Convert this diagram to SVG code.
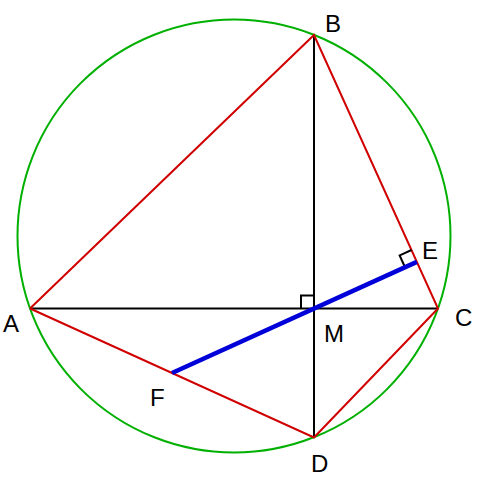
<svg xmlns="http://www.w3.org/2000/svg" width="480" height="480" viewBox="0 0 480 480">
<style>
.lbl{font-family:"Liberation Sans",Arial,sans-serif;font-size:24px;fill:#000}
.red{stroke:#d00000;stroke-width:2;fill:none}
.blk{stroke:#000;stroke-width:2;fill:none}
.blue{stroke:#0000d8;stroke-width:4.5;fill:none}
.circ{stroke:#00b000;stroke-width:2;fill:none}
</style>
<rect width="480" height="480" fill="#fff"/>
<g id="circle"><circle class="circ" cx="234" cy="236" r="216.5"/></g>
<g id="connectors">
<line class="blk" x1="30" y1="308.5" x2="438" y2="308.5"/>
<line class="blk" x1="314" y1="35" x2="314" y2="437.5"/>
<polyline class="red" points="30,308.5 314,35 438,308.5 314,437.5 30,308.5"/>
<polyline class="blk" points="301,308.5 301,295.5 314,295.5"/>
<polyline class="blk" points="411.49,250.03 399.65,255.4 405.02,267.24"/>
<line class="blue" x1="172" y1="373" x2="416.86" y2="261.87"/>
</g>
<g id="A"><text class="lbl" x="3" y="332">A</text></g>
<g id="B"><text class="lbl" x="325" y="32">B</text></g>
<g id="C"><text class="lbl" x="455" y="326">C</text></g>
<g id="D"><text class="lbl" x="311" y="472">D</text></g>
<g id="E"><text class="lbl" x="422" y="259">E</text></g>
<g id="F"><text class="lbl" x="150" y="406">F</text></g>
<g id="M"><text class="lbl" x="324" y="342">M</text></g>
</svg>
